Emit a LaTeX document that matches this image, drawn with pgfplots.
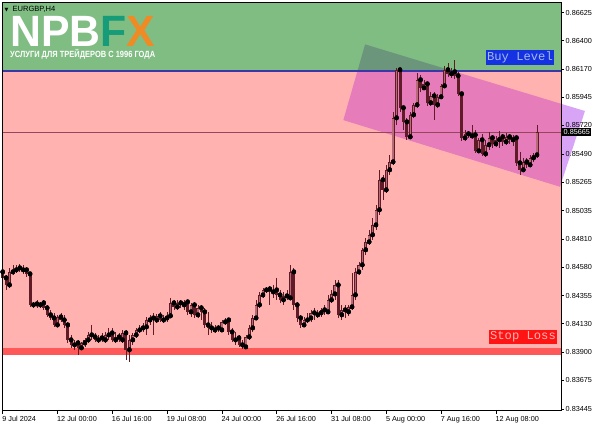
\documentclass[border=0pt]{standalone}
\usepackage{fontspec}
\setmainfont{Liberation Sans}
\newfontfamily\monof{Liberation Mono}
\newfontfamily\djv{DejaVu Sans}
\usepackage{graphicx}
\usepackage{pgfplots}
\pgfplotsset{compat=1.18}
\usepackage{pgfplotstable}
\definecolor{zgreen}{RGB}{128,189,131}
\definecolor{zpink}{RGB}{255,178,176}
\definecolor{slred}{RGB}{255,88,88}
\definecolor{chpink}{RGB}{230,124,186}
\definecolor{chgreen}{RGB}{108,150,124}
\definecolor{chout}{RGB}{216,164,246}
\definecolor{buyblue}{RGB}{56,56,168}
\definecolor{cdark}{RGB}{96,28,38}
\definecolor{cbull}{RGB}{182,108,118}
\definecolor{pline}{RGB}{150,70,90}
\definecolor{tealF}{RGB}{22,156,120}
\definecolor{orangeX}{RGB}{240,138,36}
\definecolor{boxblue}{RGB}{20,50,225}
\definecolor{boxred}{RGB}{255,20,20}
\definecolor{lblue}{RGB}{165,185,235}
\definecolor{lpink}{RGB}{255,180,180}

\pgfplotstableread{
i o h l c
0 0.84543 0.84575 0.84479 0.84495
1 0.84495 0.84519 0.84398 0.84438
2 0.84438 0.84575 0.84414 0.84543
3 0.84543 0.84599 0.84519 0.84559
4 0.84559 0.84599 0.84535 0.84575
5 0.84575 0.84607 0.84543 0.84559
6 0.84559 0.84599 0.84527 0.84575
7 0.84559 0.84583 0.84503 0.84527
8 0.84527 0.84543 0.84262 0.84278
9 0.84278 0.84302 0.84254 0.84286
10 0.84286 0.84318 0.84254 0.84278
11 0.84278 0.84302 0.84254 0.84294
12 0.84294 0.84318 0.84238 0.84254
13 0.84254 0.84278 0.84181 0.84198
14 0.84198 0.84238 0.84157 0.84173
15 0.84173 0.84214 0.84101 0.84117
16 0.84117 0.84198 0.84101 0.84181
17 0.84181 0.84214 0.84141 0.84157
18 0.84157 0.84198 0.84093 0.84117
19 0.84117 0.84141 0.83973 0.83997
20 0.83997 0.84037 0.83933 0.83957
21 0.83957 0.83997 0.83917 0.83973
22 0.83973 0.83997 0.83876 0.83933
23 0.83933 0.83981 0.83917 0.83973
24 0.83973 0.84013 0.83941 0.83997
25 0.83997 0.84061 0.83973 0.84037
26 0.84037 0.84117 0.83997 0.84021
27 0.84021 0.84053 0.83981 0.83997
28 0.83997 0.84037 0.83973 0.84013
29 0.84013 0.84053 0.83981 0.83997
30 0.83997 0.84061 0.83973 0.84037
31 0.84037 0.84093 0.83997 0.84053
32 0.84053 0.84093 0.83981 0.83997
33 0.83997 0.84061 0.83973 0.84021
34 0.84021 0.84053 0.83981 0.83997
35 0.83997 0.84077 0.83973 0.84053
36 0.84053 0.84077 0.83836 0.83917
37 0.83917 0.84037 0.83820 0.83997
38 0.83997 0.84053 0.83957 0.84037
39 0.84037 0.84093 0.84013 0.84077
40 0.84077 0.84117 0.84053 0.84093
41 0.84093 0.84133 0.84061 0.84101
42 0.84101 0.84181 0.84037 0.84157
43 0.84157 0.84198 0.84117 0.84173
44 0.84173 0.84214 0.84037 0.84157
45 0.84157 0.84206 0.84133 0.84190
46 0.84190 0.84222 0.84141 0.84157
47 0.84157 0.84198 0.84133 0.84173
48 0.84173 0.84222 0.84141 0.84190
49 0.84190 0.84334 0.84173 0.84294
50 0.84294 0.84318 0.84238 0.84262
51 0.84262 0.84318 0.84238 0.84294
52 0.84294 0.84318 0.84254 0.84278
53 0.84278 0.84318 0.84238 0.84302
54 0.84302 0.84318 0.84198 0.84222
55 0.84222 0.84294 0.84181 0.84278
56 0.84278 0.84302 0.84173 0.84198
57 0.84198 0.84278 0.84173 0.84254
58 0.84254 0.84278 0.84157 0.84222
59 0.84222 0.84254 0.84093 0.84117
60 0.84117 0.84222 0.84037 0.84093
61 0.84093 0.84141 0.84053 0.84077
62 0.84077 0.84117 0.84053 0.84093
63 0.84093 0.84117 0.84061 0.84077
64 0.84077 0.84157 0.84061 0.84141
65 0.84141 0.84173 0.84117 0.84157
66 0.84157 0.84173 0.84037 0.84061
67 0.84061 0.84093 0.83981 0.83997
68 0.83997 0.84061 0.83957 0.84013
69 0.84013 0.84037 0.83941 0.83957
70 0.83957 0.83997 0.83925 0.83941
71 0.83941 0.84037 0.83925 0.84021
72 0.84021 0.84117 0.83997 0.84093
73 0.84093 0.84198 0.84061 0.84173
74 0.84173 0.84318 0.84157 0.84278
75 0.84278 0.84382 0.84254 0.84358
76 0.84358 0.84414 0.84334 0.84398
77 0.84398 0.84422 0.84374 0.84406
78 0.84406 0.84430 0.84278 0.84382
79 0.84382 0.84438 0.84334 0.84398
80 0.84398 0.84495 0.84318 0.84358
81 0.84358 0.84398 0.84294 0.84318
82 0.84318 0.84382 0.84278 0.84350
83 0.84350 0.84398 0.84318 0.84334
84 0.84334 0.84599 0.84318 0.84543
85 0.84543 0.84575 0.84238 0.84278
86 0.84278 0.84302 0.84141 0.84173
87 0.84173 0.84198 0.84093 0.84117
88 0.84117 0.84181 0.84101 0.84157
89 0.84157 0.84214 0.84133 0.84173
90 0.84173 0.84238 0.84141 0.84214
91 0.84214 0.84254 0.84157 0.84198
92 0.84198 0.84238 0.84173 0.84214
93 0.84214 0.84254 0.84181 0.84238
94 0.84238 0.84278 0.84198 0.84222
95 0.84222 0.84358 0.84206 0.84318
96 0.84318 0.84398 0.84294 0.84366
97 0.84366 0.84479 0.84318 0.84438
98 0.84438 0.84479 0.84173 0.84198
99 0.84198 0.84278 0.84157 0.84238
100 0.84238 0.84278 0.84173 0.84222
101 0.84222 0.84278 0.84190 0.84262
102 0.84262 0.84535 0.84238 0.84358
103 0.84358 0.84575 0.84318 0.84543
104 0.84543 0.84623 0.84519 0.84599
105 0.84599 0.84736 0.84559 0.84720
106 0.84720 0.84816 0.84679 0.84784
107 0.84784 0.84880 0.84760 0.84840
108 0.84840 0.84976 0.84800 0.84920
109 0.84920 0.85081 0.84880 0.85041
110 0.85041 0.85362 0.85001 0.85282
111 0.85282 0.85322 0.85121 0.85201
112 0.85201 0.85402 0.85177 0.85362
113 0.85362 0.85482 0.85322 0.85426
114 0.85426 0.85828 0.85402 0.85779
115 0.85779 0.86181 0.85723 0.86165
116 0.86165 0.86181 0.85828 0.85860
117 0.85860 0.85876 0.85683 0.85747
118 0.85747 0.85779 0.85603 0.85627
119 0.85627 0.85828 0.85611 0.85804
120 0.85804 0.85900 0.85779 0.85884
121 0.85884 0.86141 0.85860 0.86085
122 0.86085 0.86125 0.85988 0.86020
123 0.86020 0.86085 0.86004 0.86052
124 0.86052 0.86069 0.85876 0.85900
125 0.85900 0.85988 0.85876 0.85956
126 0.85956 0.85988 0.85763 0.85884
127 0.85884 0.85972 0.85860 0.85948
128 0.85948 0.86052 0.85932 0.86036
129 0.86036 0.86197 0.86020 0.86165
130 0.86165 0.86221 0.86109 0.86133
131 0.86133 0.86181 0.86101 0.86149
132 0.86149 0.86245 0.86093 0.86117
133 0.86117 0.86149 0.85956 0.85972
134 0.85972 0.85988 0.85595 0.85619
135 0.85619 0.85683 0.85595 0.85651
136 0.85651 0.85675 0.85619 0.85635
137 0.85635 0.85723 0.85611 0.85643
138 0.85643 0.85683 0.85498 0.85514
139 0.85514 0.85619 0.85498 0.85603
140 0.85603 0.85651 0.85474 0.85490
141 0.85490 0.85603 0.85466 0.85563
142 0.85563 0.85667 0.85523 0.85619
143 0.85619 0.85643 0.85539 0.85571
144 0.85571 0.85635 0.85547 0.85603
145 0.85603 0.85675 0.85539 0.85627
146 0.85627 0.85651 0.85555 0.85587
147 0.85587 0.85659 0.85563 0.85627
148 0.85627 0.85651 0.85571 0.85603
149 0.85603 0.85643 0.85555 0.85619
150 0.85619 0.85635 0.85394 0.85418
151 0.85418 0.85506 0.85322 0.85362
152 0.85362 0.85458 0.85346 0.85426
153 0.85426 0.85458 0.85378 0.85402
154 0.85402 0.85482 0.85386 0.85458
155 0.85458 0.85498 0.85426 0.85482
156 0.85482 0.85723 0.85458 0.85665
}\candles

\begin{document}
\begin{tikzpicture}
\begin{axis}[
  at={(2bp,18.5bp)}, anchor=south west,
  scale only axis, width=559bp, height=408.5bp,
  xmin=-0.2, xmax=163, ymin=0.83432, ymax=0.86711,
  clip=false, axis on top,
  axis line style={black, line width=0.6bp},
  tick align=outside, major tick length=3bp,
  tick style={black, line width=0.6bp},
  xtick pos=bottom, ytick pos=right,
  xticklabel pos=lower, yticklabel pos=right,
  scaled y ticks=false, scaled x ticks=false,
  xtick={0,16,32,48,64,80,96,112,128,144},
  xticklabels={9 Jul 2024,12 Jul 00:00,16 Jul 16:00,19 Jul 08:00,24 Jul 00:00,26 Jul 16:00,31 Jul 08:00,5 Aug 00:00,7 Aug 16:00,12 Aug 08:00},
  ytick={0.83445,0.83675,0.83900,0.84130,0.84355,0.84580,0.84810,0.85035,0.85265,0.85490,0.85720,0.85945,0.86170,0.86400,0.86625},
  yticklabels={0.83445,0.83675,0.83900,0.84130,0.84355,0.84580,0.84810,0.85035,0.85265,0.85490,0.85720,0.85945,0.86170,0.86400,0.86625},
  ticklabel style={font=\fontsize{7.3}{8}\selectfont},
  xticklabel style={anchor=north west, inner sep=0pt, yshift=-2.5bp, xshift=-0.5bp},
  yticklabel style={anchor=west, inner sep=0pt, xshift=1.5bp},
]
% zones
\addplot[fill=zgreen, draw=none, forget plot] coordinates {(-0.2,0.86155) (163,0.86155) (163,0.86711) (-0.2,0.86711)} -- cycle;
\addplot[fill=zpink, draw=none, forget plot] coordinates {(-0.2,0.83933) (163,0.83933) (163,0.86155) (-0.2,0.86155)} -- cycle;
\addplot[fill=slred, draw=none, forget plot] coordinates {(-0.2,0.83876) (163,0.83876) (163,0.83933) (-0.2,0.83933)} -- cycle;
% channel
\addplot[fill=chgreen, draw=none, forget plot] coordinates {(103.55,0.86155) (105.8,0.86371) (131.7,0.86155)} -- cycle;
\addplot[fill=chpink, draw=none, forget plot] coordinates {(103.55,0.86155) (131.7,0.86155) (163,0.85894) (163,0.85253) (162.7,0.85228) (99.45,0.85763)} -- cycle;
\addplot[fill=chout, draw=none, forget plot] coordinates {(163,0.85894) (170,0.85836) (163,0.85253)} -- cycle;
% level lines
\addplot[buyblue, line width=1.6bp, forget plot] coordinates {(-0.2,0.86155) (163,0.86155)};
\addplot[pline, line width=0.5bp, forget plot] coordinates {(-0.2,0.85665) (163,0.85665)};
% wicks
\addplot[only marks, mark=none, forget plot,
  error bars/.cd, y dir=both, y explicit, error mark=none,
  error bar style={line width=0.75bp, color=cdark}]
  table[x=i, y=o, y error plus expr=\thisrow{h}-\thisrow{o}, y error minus expr=\thisrow{o}-\thisrow{l}] {\candles};
% bodies
\addplot[only marks, mark=none, forget plot,
  error bars/.cd, y dir=both, y explicit, error mark=none,
  error bar style={line width=3bp, color=cdark}]
  table[x=i, y=o, y error plus expr={max(\thisrow{c}-\thisrow{o},0.00001)}, y error minus expr={max(\thisrow{o}-\thisrow{c},0)}] {\candles};
\addplot[only marks, mark=none, forget plot,
  error bars/.cd, y dir=plus, y explicit, error mark=none,
  error bar style={line width=1.4bp, color=cbull}]
  table[x=i, y expr=\thisrow{o}+0.00005, y error plus expr={max(\thisrow{c}-\thisrow{o}-0.0001,0)}] {\candles};
% labels
\node[fill=boxblue, text=lblue, inner xsep=1bp, inner ysep=2bp, anchor=east,
  font=\monof\fontsize{12.2}{12}\selectfont] at (axis cs:163,0.86265) [xshift=-7bp] {Buy Level};
\node[fill=boxred, text=lpink, inner xsep=1bp, inner ysep=2bp, anchor=east,
  font=\monof\fontsize{12.2}{12}\selectfont] at (axis cs:163,0.84021) [xshift=-4bp] {Stop Loss};
\coordinate (cp) at (axis cs:163,0.85665);
\end{axis}
\node[fill=black, text=white, anchor=west, inner xsep=1.5bp, inner ysep=1.5bp,
  font=\fontsize{7.3}{8}\selectfont] at (cp) [xshift=1bp] {0.85665};
% header and logo
\node[anchor=base west, inner sep=0pt] at (4.5bp,417.5bp) {{\djv\fontsize{5}{5}\selectfont ▼}\hspace{4bp}\fontsize{7.6}{8}\selectfont EURGBP,H4};
\node[anchor=base west, inner sep=0pt, text=white] at (10bp,382.8bp)
  {\resizebox{145bp}{\height}{\fontsize{44}{44}\selectfont\bfseries NPB\textcolor{tealF}{F}\textcolor{orangeX}{X}}};
\node[anchor=base west, inner sep=0pt, text=white] at (10bp,371.2bp)
  {\resizebox{145bp}{\height}{\fontsize{9}{9}\selectfont\bfseries УСЛУГИ ДЛЯ ТРЕЙДЕРОВ С 1996 ГОДА}};
\pgfresetboundingbox
\path[use as bounding box] (0,0) rectangle (600bp,429bp);
\end{tikzpicture}
\end{document}
